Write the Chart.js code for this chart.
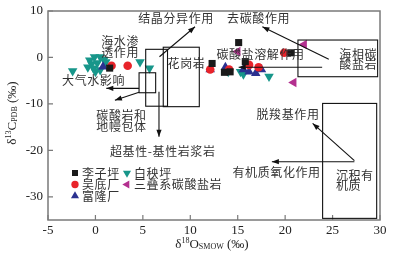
<!DOCTYPE html>
<html>
<head>
<meta charset="utf-8">
<script src="https://cdn.jsdelivr.net/npm/chart.js@4"></script>
<style>
html, body { margin: 0; padding: 0; background: #fff; }
</style>
</head>
<body>
<canvas id="grafico" width="393" height="261"></canvas>
<script>
// series values (d18O SMOW, d13C PDB)
const liziX = [15.1, 12.3, 13.6, 14.2, 15.8, 20.6, 1.5];
const liziY = [3.2, -1.3, -3.2, -3.1, -0.9, 1.0, -2.3];
const wudiX = [1.7, 3.4, 19.9, 16.2, 17.2, 12.1, 14.1];
const wudiY = [-1.8, -1.8, 1.0, -1.6, -2.1, -2.6, -2.6];
const fulongX = [0.8, 12.1, 13.7, 15.6, 16.2, 16.9, 17.5];
const fulongY = [-2.0, -2.6, -2.1, -2.6, -3.1, -3.4, -2.6];
const baiyangX = [-2.4, -0.6, -0.1, 0.5, 0.9, -0.4, 0.2, -0.8, -0.2, 0.5, 1.1, 0.0, 4.7, 5.7, 14.0, 15.3, 15.6, 18.3];
const baiyangY = [-2.9, -0.6, 0.1, 0.1, -0.5, -1.4, -1.2, -2.1, -2.3, -2.7, -1.0, -3.1, -1.0, -2.3, -3.1, -3.1, -3.6, -4.1];
const sandieX = [22.0, 20.9, 15.0];
const sandieY = [2.8, -5.4, 1.3];

const seriesNames = ['李子坪', '吴底厂', '富隆厂', '白秧坪', '三叠系碳酸盐岩'];
const xTicks = [-5, 0, 5, 10, 15, 20, 25, 30];
const yTicks = [10, 0, -10, -20, -30];

// annotation boxes / arrows / labels in data units
const boxes = [
    [5.3, 1.75, 7.6, -10.5],
    [7.15, 2.2, 10.95, -10.6],
    [4.6, -3.3, 6.35, -7.6],
    [21.35, 3.75, 29.75, -4.15],
    [23.95, -9.9, 29.65, -34.65]
];
const lines = [[6.7, -7.4, 6.7, -17.1]];
const arrows = [
    [4.6, -6.65, 1.15, -6.65],
    [4.6, -7.5, 2.05, -9.2],
    [6.75, 0.15, 10.5, 6.6],
    [24.6, -0.4, 17.6, 6.6],
    [23.9, -2.1, 15.1, -2.1],
    [27.3, -22.2, 22.9, -14.2],
    [27.3, -22.45, 18.6, -22.45]
];
const labels = [
    ['结晶分异作用', 8.5, 8.3, 'center'],
    ['去碳酸作用', 17.2, 8.5, 'center'],
    ['海水渗', 2.6, 3.4, 'center'],
    ['透作用', 2.6, 1.0, 'center'],
    ['大气水影响', -0.2, -4.9, 'center'],
    ['花岗岩', 9.6, -1.2, 'center'],
    ['碳酸盐溶解作用', 17.4, 0.75, 'center'],
    ['海相碳', 27.7, 0.75, 'center'],
    ['酸盐岩', 27.7, -1.5, 'center'],
    ['碳酸岩和', 2.75, -12.4, 'center'],
    ['地幔包体', 2.75, -14.9, 'center'],
    ['超基性-基性岩浆岩', 7.1, -20.15, 'center'],
    ['脱羧基作用', 20.3, -12.2, 'center'],
    ['有机质氧化作用', 19.1, -24.7, 'center'],
    ['沉积有', 25.35, -25.3, 'left'],
    ['机质', 25.35, -27.6, 'left']
];

const toPts = (xs, ys) => xs.map((x, i) => ({ x: x, y: ys[i] }));
const cjk = '"Noto Sans CJK SC", sans-serif';
const serif = '"Liberation Serif", "DejaVu Serif", serif';

function arrowHead(ctx, x1, y1, x2, y2) {
    const a = Math.atan2(y2 - y1, x2 - x1);
    const L = 7, W = 2.6;
    ctx.beginPath();
    ctx.moveTo(x2, y2);
    ctx.lineTo(x2 - L * Math.cos(a) + W * Math.sin(a), y2 - L * Math.sin(a) - W * Math.cos(a));
    ctx.lineTo(x2 - L * Math.cos(a) - W * Math.sin(a), y2 - L * Math.sin(a) + W * Math.cos(a));
    ctx.closePath();
    ctx.fill();
}

const decorPlugin = {
    id: 'decor',
    afterDatasetsDraw(chart) {
        const ctx = chart.ctx;
        const xs = chart.scales.x, ys = chart.scales.y;
        const a = chart.chartArea;
        const px = v => xs.getPixelForValue(v);
        const py = v => ys.getPixelForValue(v);
        ctx.save();

        // frame + inner ticks + tick labels
        ctx.strokeStyle = '#7a7a7a';
        ctx.lineWidth = 1.5;
        ctx.strokeRect(a.left, a.top, a.right - a.left, a.bottom - a.top);
        ctx.lineWidth = 1.2;
        ctx.beginPath();
        xTicks.forEach(t => { ctx.moveTo(px(t), a.bottom); ctx.lineTo(px(t), a.bottom - 5); });
        yTicks.forEach(t => { ctx.moveTo(a.left, py(t)); ctx.lineTo(a.left + 5, py(t)); });
        ctx.stroke();
        ctx.fillStyle = '#222';
        ctx.font = '13px ' + serif;
        ctx.textBaseline = 'middle';
        ctx.textAlign = 'center';
        xTicks.forEach(t => ctx.fillText(String(t), px(t), a.bottom + 11));
        ctx.textAlign = 'right';
        yTicks.forEach(t => ctx.fillText(String(t), a.left - 5, py(t)));

        // boxes and arrows
        ctx.strokeStyle = '#111';
        ctx.fillStyle = '#111';
        ctx.lineWidth = 1.1;
        boxes.forEach(b => {
            ctx.strokeRect(px(b[0]), py(b[1]), px(b[2]) - px(b[0]), py(b[3]) - py(b[1]));
        });
        lines.concat(arrows).forEach(l => {
            ctx.beginPath();
            ctx.moveTo(px(l[0]), py(l[1]));
            ctx.lineTo(px(l[2]), py(l[3]));
            ctx.stroke();
        });
        arrows.concat(lines).forEach(l => arrowHead(ctx, px(l[0]), py(l[1]), px(l[2]), py(l[3])));

        // labels
        ctx.font = '12px ' + cjk;
        ctx.letterSpacing = '0.6px';
        ctx.textBaseline = 'middle';
        ctx.fillStyle = '#333';
        labels.forEach(l => {
            ctx.textAlign = l[3];
            ctx.fillText(l[0], px(l[1]), py(l[2]));
        });

        // legend
        const spots = [[a.left + 27, a.top + 162], [a.left + 27, a.top + 173.5], [a.left + 27, a.top + 185],
                       [a.left + 79, a.top + 162], [a.left + 79, a.top + 173.5]];
        chart.data.datasets.forEach((d, i) => {
            const s = spots[i];
            ctx.fillStyle = d.backgroundColor;
            Chart.helpers.drawPoint(ctx, {
                pointStyle: d.pointStyle, rotation: d.rotation || 0,
                radius: d.pointRadius * 0.85, borderWidth: 0
            }, s[0], s[1]);
            ctx.fillStyle = '#333';
            ctx.textAlign = 'left';
            ctx.fillText(d.label, s[0] + 7, s[1]);
        });

        // axis titles
        ctx.letterSpacing = '0px';
        ctx.fillStyle = '#222';
        const drawRich = (parts, x, y) => {
            let w = 0;
            parts.forEach(p => { ctx.font = p[2] + 'px ' + serif; w += ctx.measureText(p[0]).width; });
            let cx = x - w / 2;
            parts.forEach(p => {
                ctx.font = p[2] + 'px ' + serif;
                ctx.textAlign = 'left';
                ctx.fillText(p[0], cx, y + p[1]);
                cx += ctx.measureText(p[0]).width;
            });
        };
        drawRich([['δ', 0, 13], ['18', -4, 8], ['O', 0, 13], ['SMOW', 2, 8], [' (‰)', 0, 13]],
                 (a.left + a.right) / 2 - 2, 245);
        ctx.save();
        ctx.translate(13, (a.top + a.bottom) / 2 - 2.5);
        ctx.rotate(-Math.PI / 2);
        drawRich([['δ', 0, 13], ['13', -4, 8], ['C', 0, 13], ['PDB', 2, 8], [' (‰)', 0, 13]], 0, 0);
        ctx.restore();

        ctx.restore();
    }
};

const ctx = document.getElementById('grafico');

new Chart(ctx, {
    type: 'scatter',
    data: {
        datasets: [
            { label: seriesNames[0], data: toPts(liziX, liziY), backgroundColor: '#1a1a1a',
              pointStyle: 'rect', pointRadius: 5 },
            { label: seriesNames[1], data: toPts(wudiX, wudiY), backgroundColor: '#e8232a',
              pointStyle: 'circle', pointRadius: 4.3 },
            { label: seriesNames[2], data: toPts(fulongX, fulongY), backgroundColor: '#2b3190',
              pointStyle: 'triangle', pointRadius: 5.5 },
            { label: seriesNames[3], data: toPts(baiyangX, baiyangY), backgroundColor: '#17968a',
              pointStyle: 'triangle', rotation: 180, pointRadius: 5.5 },
            { label: seriesNames[4], data: toPts(sandieX, sandieY), backgroundColor: '#b3308f',
              pointStyle: 'triangle', rotation: -90, pointRadius: 5.5 }
        ].map(d => Object.assign(d, { pointBorderWidth: 0, borderWidth: 0, pointHoverRadius: d.pointRadius }))
    },
    options: {
        responsive: false,
        animation: false,
        devicePixelRatio: 1,
        layout: { padding: { left: 0, top: 11, right: 13, bottom: 0 } },
        plugins: { legend: { display: false }, tooltip: { enabled: false } },
        scales: {
            x: {
                type: 'linear', min: -5, max: 30,
                afterFit: s => { s.height = 41; },
                grid: { display: false },
                border: { display: false },
                ticks: { display: false }
            },
            y: {
                type: 'linear', min: -35, max: 10,
                afterFit: s => { s.width = 48; },
                grid: { display: false },
                border: { display: false },
                ticks: { display: false }
            }
        }
    },
    plugins: [decorPlugin]
});
</script>
</body>
</html>
